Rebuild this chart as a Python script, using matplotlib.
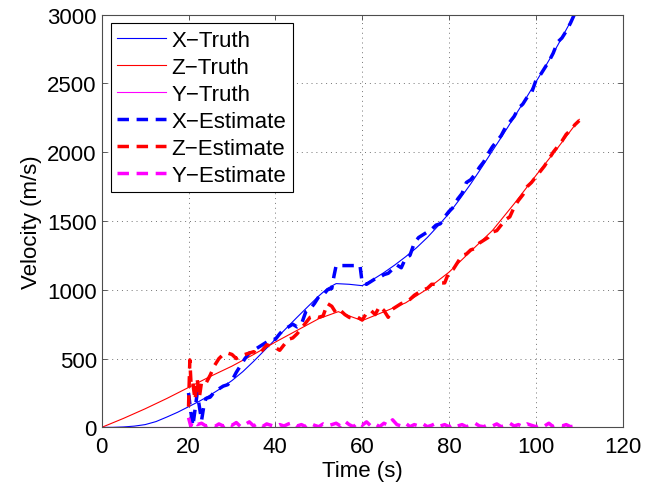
import matplotlib
matplotlib.use("Agg")
import matplotlib.pyplot as plt

plt.rcParams['font.family'] = ['Liberation Sans', 'DejaVu Sans']

# ---- data ----
x_truth_t = [0, 2.5, 5, 7.5, 10, 12.5, 15, 17.5, 20, 22.5, 25, 27.5, 30, 32.5, 35, 37.5, 40, 42.5, 45, 47.5, 50,
             52, 54, 57, 60, 62.5, 65, 67.5, 70, 72.5, 75, 77.5, 80, 82.5, 85, 87.5, 90, 92.5, 95, 97.5, 100, 102.5, 105, 107.5, 110]
x_truth_v = [0, 0, 3, 9, 20, 42, 75, 110, 150, 190, 235, 285, 340, 405, 480, 560, 640, 720, 800, 878, 955,
             1010, 1045, 1040, 1030, 1075, 1125, 1180, 1240, 1305, 1380, 1465, 1555, 1660, 1770, 1888, 2010, 2130, 2255, 2380, 2510, 2640, 2775, 2920, 3080]

z_truth_t = [0, 5, 10, 15, 20, 25, 30, 35, 40, 45, 50, 54.5, 57, 60, 65, 70, 75, 80, 85, 90, 95, 100, 105, 110]
z_truth_v = [0, 65, 135, 210, 290, 370, 445, 530, 620, 705, 790, 841, 810, 776, 840, 905, 1006, 1128, 1280, 1431, 1625, 1830, 2030, 2239]

y_truth_t = [0, 110]
y_truth_v = [0, 0]

x_est_t = [20.0, 20.5, 21.0, 21.5, 22.0, 22.5, 23.0, 23.5, 24, 25, 26, 27, 28, 29, 30, 31, 32, 33, 34, 35,
           36, 37, 38, 39, 40, 41, 42, 43, 44, 45, 46, 47, 48, 49, 50, 51, 52, 53, 53.5, 54, 59.5, 60,
           61, 62, 63, 64, 65, 66, 67, 68, 69, 70, 71, 72, 73, 74, 75, 76, 77, 78, 79, 80, 81, 82, 83,
           84, 85, 86, 87, 88, 89, 90, 91, 92, 93, 94, 95, 96, 97, 98, 99, 100, 101, 102, 103, 104, 105,
           106, 107, 108, 109, 110]
x_est_v = [250, 120, 10, 130, 250, 150, 50, 150, 210, 220, 260, 280, 300, 310, 340, 400, 450, 500, 540, 560,
           580, 600, 620, 640, 640, 680, 715, 730, 750, 730, 750, 840, 860, 900, 950, 960, 1000, 1010, 1100, 1176, 1176, 1050,
           1040, 1060, 1080, 1090, 1110, 1120, 1150, 1180, 1160, 1230, 1250, 1340, 1380, 1400, 1420, 1440, 1470, 1480, 1530, 1570, 1600, 1660, 1700,
           1780, 1800, 1840, 1890, 1930, 1990, 2040, 2080, 2120, 2180, 2220, 2260, 2320, 2350, 2400, 2430, 2520, 2560, 2610, 2660, 2720, 2800,
           2830, 2880, 2940, 3010, 3080]

z_est_t = [20.0, 20.3, 20.6, 21.0, 21.5, 22.0, 22.5, 23.0, 24, 25, 26, 27, 28, 29, 30, 31, 32, 33, 34, 35,
           36, 37, 38, 39, 40, 41, 42, 43, 44, 45, 46, 47, 48, 49, 50, 51, 52, 53, 54, 55, 56, 57, 58, 59, 60,
           61, 62, 63, 64, 65, 66, 67, 68, 69, 70, 71, 72, 73, 74, 75, 76, 77, 78, 79, 80, 81, 82, 83, 84, 85,
           86, 87, 88, 89, 90, 91, 92, 93, 94, 95, 96, 97, 98, 99, 100, 101, 102, 103, 104, 105, 106, 107, 108, 109, 110]
z_est_v = [150, 490, 300, 320, 200, 350, 220, 330, 320, 380, 450, 500, 530, 540, 530, 500, 520, 530, 540, 550,
           530, 560, 600, 590, 580, 560, 600, 640, 650, 680, 720, 760, 800, 810, 800, 810, 900, 880, 830, 850, 820, 800, 790, 800, 780,
           830, 850, 820, 880, 850, 800, 860, 880, 900, 910, 930, 960, 980, 1000, 1010, 1040, 1040, 1050, 1050, 1130, 1150, 1200, 1250, 1260, 1290,
           1300, 1340, 1360, 1380, 1420, 1430, 1470, 1510, 1530, 1600, 1650, 1690, 1750, 1780, 1820, 1860, 1900, 1950, 2000, 2040, 2080, 2130, 2160, 2200, 2230]

y_est_t = [20, 20.5, 21, 22, 23, 24, 25, 26, 27, 28, 29, 30, 31, 32, 33, 34, 35, 36, 37, 38, 39, 40,
           41, 42, 43, 44, 45, 46, 47, 48, 49, 50, 51, 52, 53, 54, 55, 56, 57, 58, 59, 60, 61, 62, 63, 64, 65,
           66, 67, 68, 69, 70, 71, 72, 73, 74, 75, 76, 77, 78, 79, 80, 81, 82, 83, 84, 85, 86, 87, 88, 89, 90,
           91, 92, 93, 94, 95, 96, 97, 98, 99, 100, 101, 102, 103, 104, 105, 106, 107, 108, 109, 110]
y_est_v = [70, 10, 45, 20, 30, 10, 20, 5, 25, 10, 30, 15, 35, 5, 20, 40, 10, 30, 5, 25, 15, 5,
           20, 10, 25, 35, 10, 20, 5, 30, 15, 5, 25, 10, 20, 30, 10, 45, 20, 5, 35, 15, 40, 10, 25, 5, 30,
           15, 55, 20, 10, 30, 5, 20, 10, 25, 5, 15, 30, 10, 20, 5, 25, 10, 20, 5, 15, 30, 10, 5, 20, 10,
           25, 5, 15, 30, 10, 20, 5, 25, 15, 5, 20, 10, 30, 5, 15, 10, 20, 5, 10, 5]

xticks = [0, 20, 40, 60, 80, 100, 120]
yticks = [0, 500, 1000, 1500, 2000, 2500, 3000]

# ---- figure ----
fig = plt.figure(figsize=(6.52, 4.89), dpi=100)
ax = fig.add_axes([0.156, 0.124, 0.799, 0.844])

lw_t = 0.8
lw_e = 2.5
dash = (3.3, 2.2)
ax.plot(x_truth_t, x_truth_v, color=(0, 0, 1), lw=lw_t, label='X\u2212Truth')
ax.plot(z_truth_t, z_truth_v, color=(1, 0, 0), lw=lw_t, label='Z\u2212Truth')
ax.plot(y_truth_t, y_truth_v, color=(1, 0, 1), lw=lw_t, label='Y\u2212Truth')
ax.plot(x_est_t, x_est_v, color=(0, 0, 1), lw=lw_e, dashes=dash, label='X\u2212Estimate')
ax.plot(z_est_t, z_est_v, color=(1, 0, 0), lw=lw_e, dashes=dash, label='Z\u2212Estimate')
ax.plot(y_est_t, y_est_v, color=(1, 0, 1), lw=lw_e, dashes=dash, label='Y\u2212Estimate')

ax.set_xlim(0, 120)
ax.set_ylim(0, 3000)
ax.set_xticks(xticks)
ax.set_yticks(yticks)
ax.tick_params(direction='in', top=True, right=True, length=3.6, width=0.6,
               labelsize=16, color='0.25')
ax.tick_params(axis='x', pad=6.5)
ax.tick_params(axis='y', pad=3.6)
for s in ax.spines.values():
    s.set_color('0.3')
    s.set_linewidth(0.8)
ax.grid(True, color='0.45', linestyle=(0, (1, 4)), linewidth=0.7)
ax.set_axisbelow(True)

ax.set_xlabel('Time (s)', fontsize=16, labelpad=2)
ax.set_ylabel('Velocity (m/s)', fontsize=16, labelpad=4)

leg = ax.legend(loc='upper left', bbox_to_anchor=(0.017, 0.98), borderaxespad=0,
                fontsize=16, handlelength=2.2, handletextpad=0.25, labelspacing=0.27,
                borderpad=0.3, fancybox=False, framealpha=1)
leg.get_frame().set_edgecolor('k')
leg.get_frame().set_linewidth(0.8)

fig.savefig('out.png', dpi=100)
